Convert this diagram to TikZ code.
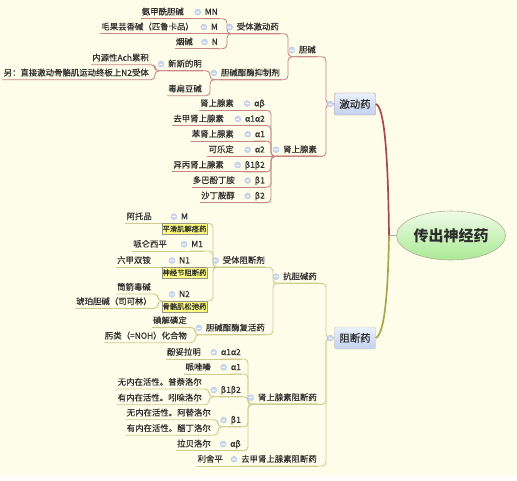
\documentclass[tikz,border=0pt]{standalone}
\usepackage{fontspec}
\setmainfont{Noto Sans CJK SC}
\newfontfamily\mmfam{Noto Sans CJK SC}[FakeBold=0.3]
\usetikzlibrary{calc,shapes.geometric}

\definecolor{bgc}{RGB}{254,253,234}
\definecolor{txtc}{RGB}{45,45,45}
\definecolor{lineA}{RGB}{200,132,135}
\definecolor{lineB}{RGB}{208,202,142}
\definecolor{mainA}{RGB}{168,72,76}
\definecolor{mainB}{RGB}{172,165,80}
\definecolor{knobc}{RGB}{200,216,242}
\definecolor{knobd}{RGB}{172,194,230}
\definecolor{boxt}{RGB}{234,240,252}
\definecolor{boxb}{RGB}{194,210,240}
\definecolor{rootd}{RGB}{168,176,150}
\definecolor{roott}{RGB}{240,251,230}
\definecolor{rootb}{RGB}{170,234,150}
\definecolor{lblf}{RGB}{255,255,130}
\definecolor{lblb}{RGB}{150,150,130}

\newcommand\mmfont{\mmfam\fontsize{8.4}{10}\selectfont}

\begin{document}
\begin{tikzpicture}[x=1pt,y=-1pt,
  topic/.style={font=\mmfont,text=txtc,inner xsep=1pt,inner ysep=0pt,
    text height=7pt,text depth=1.5pt,minimum height=13pt,anchor=east},
  mainbox/.style={rectangle,rounded corners=2pt,top color=boxt,bottom color=boxb,
    font=\mmfam\fontsize{10.4}{12}\selectfont,text=txtc,minimum width=41pt,minimum height=22pt,inner sep=1pt},
  lbl/.style={draw=lblb,fill=lblf,line width=0.4pt,font=\mmfam\fontsize{7.3}{8}\selectfont,text=txtc,
    inner xsep=0.6pt,inner ysep=0pt,minimum height=10.5pt,anchor=north},
  conA/.style={draw=lineA,line width=0.9pt,rounded corners=4pt},
  conB/.style={draw=lineB,line width=0.9pt,rounded corners=4pt},
  knob/.style={fill=knobc,draw=knobd,line width=0.3pt}]
\useasboundingbox (0,0) rectangle (517,480);
\fill[bgc] (0,0) rectangle (517,476);

% centre and the two main branches
\node[ellipse,draw=rootd,line width=0.6pt,top color=roott,bottom color=rootb,minimum width=109pt,minimum height=49pt,
  inner sep=0pt,text=txtc,font=\fontsize{15}{18}\selectfont\bfseries] (root) at (451,235.5) {传出神经药};
\node[mainbox,draw=lineA] (act) at (355,104) {激动药};
\node[mainbox,draw=lineB] (blk) at (355,338) {阻断药};

% agonists
\node[topic] (chol) at (317,50) {胆碱};
\node[topic] (adr) at (318,149.7) {肾上腺素};
\node[topic] (ragon) at (280,27) {受体激动药};
\node[topic] (ache) at (281,73) {胆碱酯酶抑制剂};
\node[topic] (mn) at (219,12) {MN};
\node[topic] (m) at (219,27) {M};
\node[topic] (n) at (219,42) {N};
\node[topic] (mn1) at (185,12) {氨甲酰胆碱};
\node[topic] (m1) at (195,27) {毛果芸香碱（匹鲁卡品）};
\node[topic] (n1) at (194,42) {烟碱};
\node[topic] (neo) at (203,64) {新斯的明};
\node[topic] (phy) at (203,89) {毒扁豆碱};
\node[topic] (ach) at (150,58) {内源性Ach累积};
\node[topic] (n2r) at (150,73) {另：直接激动骨骼肌运动终板上N2受体};
\node[topic] (ab) at (266,103.5) {αβ};
\node[topic] (a12) at (266,118.9) {α1α2};
\node[topic] (a1) at (266,134.3) {α1};
\node[topic] (a2) at (266,149.7) {α2};
\node[topic] (b12) at (266,165.1) {β1β2};
\node[topic] (b1) at (266,180.5) {β1};
\node[topic] (b2) at (266,195.9) {β2};
\node[topic] (ab-l) at (235,103.5) {肾上腺素};
\node[topic] (a12-l) at (225,118.9) {去甲肾上腺素};
\node[topic] (a1-l) at (235,134.3) {苯肾上腺素};
\node[topic] (a2-l) at (235,149.7) {可乐定};
\node[topic] (b12-l) at (225,165.1) {异丙肾上腺素};
\node[topic] (b1-l) at (236,180.5) {多巴酚丁胺};
\node[topic] (b2-l) at (236,195.9) {沙丁胺醇};

% antagonists
\node[topic] (achb) at (318,276.7) {抗胆碱药};
\node[topic] (adrb) at (318,397.7) {肾上腺素阻断药};
\node[topic] (nadb) at (318,459.3) {去甲肾上腺素阻断药};
\node[topic] (rblk) at (266,260.5) {受体阻断剂};
\node[topic] (reac) at (266,328) {胆碱酯酶复活药};
\node[topic,anchor=center] (bm) at (184.5,216.7) {M};
\node[topic] (bm1) at (204,244.3) {M1};
\node[topic,anchor=center] (bn1) at (184.5,260.5) {N1};
\node[topic,anchor=center] (bn2) at (184.5,294.3) {N2};
\node[lbl] (lblM) at (bm.south) {平滑肌解痉药};
\node[lbl] (lblN1) at (bn1.south) {神经节阻断药};
\node[lbl] (lblN2) at (bn2.south) {骨骼肌松弛药};
\node[topic] (atr) at (153,216.7) {阿托品};
\node[topic] (pir) at (168,244.3) {哌仑西平};
\node[topic] (hex) at (152,260.5) {六甲双铵};
\node[topic] (tub) at (152,287.3) {筒箭毒碱};
\node[topic] (suc) at (153,301.7) {琥珀胆碱（司可林）};
\node[topic] (pam) at (188,320.7) {碘解磷定};
\node[topic] (oxi) at (188,336) {肟类（=NOH）化合物};
\node[topic] (ab2) at (242,352.3) {α1α2};
\node[topic] (a1b) at (242,367.3) {α1};
\node[topic] (b12b) at (242,390) {β1β2};
\node[topic] (b1b) at (242,420) {β1};
\node[topic] (abb) at (242,444) {αβ};
\node[topic] (phe) at (202,352.3) {酚妥拉明};
\node[topic] (pra) at (212,367.3) {哌唑嗪};
\node[topic] (pro) at (203,382.3) {无内在活性。普萘洛尔};
\node[topic] (pin) at (203,398) {有内在活性。吲哚洛尔};
\node[topic] (ate) at (212,413) {无内在活性。阿替洛尔};
\node[topic] (ace) at (212,428.5) {有内在活性。醋丁洛尔};
\node[topic] (lab) at (212,444) {拉贝洛尔};
\node[topic] (res) at (224,459.3) {利舍平};

% spine points
\coordinate (hub) at (389,235.5);
\coordinate (s-act) at (326,104);
\coordinate (s-chol) at (288,0 |- chol.south);
\coordinate (s-rag) at (227,0 |- ragon.south);
\coordinate (s-ache) at (210,0 |- ache.south);
\coordinate (s-neo) at (155,0 |- neo.south);
\coordinate (s-adr) at (271,0 |- adr.south);
\coordinate (s-blk) at (326,338);
\coordinate (s-achb) at (273,0 |- achb.south);
\coordinate (s-rblk) at (213,0 |- rblk.south);
\coordinate (s-bn2) at (158,0 |- lblN2.north);
\coordinate (s-reac) at (195,0 |- reac.south);
\coordinate (s-adrb) at (248,0 |- adrb.south);
\coordinate (s-b12) at (209,0 |- b12b.south);
\coordinate (s-b1) at (218,0 |- b1b.south);

\draw[rootd,line width=0.8pt] (root.west) -- (hub);
\draw[mainA,line width=1.7pt] (hub) .. controls (388,150) and (384,106) .. (act.east);
\draw[mainB,line width=1.7pt] (hub) .. controls (388,290) and (385,334) .. (blk.east);

% agonist connectors
\draw[conA] (chol.south west) -| (s-act) -- (act.west);
\draw[conA] (adr.south west) -| (s-act) -- (act.west);
\draw[conA] (ragon.south west) -| (s-chol) -- (chol.south east);
\draw[conA] (ache.south west) -| (s-chol) -- (chol.south east);
\draw[conA] (mn.south west) -| (s-rag) -- (ragon.south east);
\draw[conA] (m.south west) -- (ragon.south east);
\draw[conA] (n.south west) -| (s-rag) -- (ragon.south east);
\draw[conA] (mn1.south west) -- (mn.south east);
\draw[conA] (m1.south west) -- (m.south east);
\draw[conA] (n1.south west) -- (n.south east);
\draw[conA] (neo.south west) -| (s-ache) -- (ache.south east);
\draw[conA] (phy.south west) -| (s-ache) -- (ache.south east);
\draw[conA] (ach.south west) -| (s-neo) -- (neo.south east);
\draw[conA] (n2r.south west) -| (s-neo) -- (neo.south east);
\foreach \c in {ab,a12,a1,b12,b1,b2}
  \draw[conA] (\c.south west) -| (s-adr) -- (adr.south east);
\draw[conA] (a2.south west) -- (adr.south east);
\foreach \c in {ab,a12,a1,a2,b12,b1,b2}
  \draw[conA] (\c-l.south west) -- (\c.south east);

% antagonist connectors
\foreach \c in {achb,adrb,nadb}
  \draw[conB] (\c.south west) -| (s-blk) -- (blk.west);
\draw[conB] (rblk.south west) -| (s-achb) -- (achb.south east);
\draw[conB] (reac.south west) -| (s-achb) -- (achb.south east);
\draw[conB] (lblM.north east) -| (s-rblk) -- (rblk.south east);
\draw[conB] (bm1.south west) -| (s-rblk) -- (rblk.south east);
\draw[conB] (lblN1.north east) -- (rblk.south east);
\draw[conB] (lblN2.north east) -| (s-rblk) -- (rblk.south east);
\draw[conB] (atr.south west) -- (lblM.north west);
\draw[conB] (pir.south west) -- (bm1.south east);
\draw[conB] (hex.south west) -- (lblN1.north west);
\draw[conB] (tub.south west) -| (s-bn2) -- (lblN2.north west);
\draw[conB] (suc.south west) -| (s-bn2) -- (lblN2.north west);
\draw[conB] (pam.south west) -| (s-reac) -- (reac.south east);
\draw[conB] (oxi.south west) -| (s-reac) -- (reac.south east);
\foreach \c in {ab2,a1b,b12b,b1b,abb}
  \draw[conB] (\c.south west) -| (s-adrb) -- (adrb.south east);
\draw[conB] (phe.south west) -- (ab2.south east);
\draw[conB] (pra.south west) -- (a1b.south east);
\draw[conB] (pro.south west) -| (s-b12) -- (b12b.south east);
\draw[conB] (pin.south west) -| (s-b12) -- (b12b.south east);
\draw[conB] (ate.south west) -| (s-b1) -- (b1b.south east);
\draw[conB] (ace.south west) -| (s-b1) -- (b1b.south east);
\draw[conB] (lab.south west) -- (abb.south east);
\draw[conB] (res.south west) -- (nadb.south east);

% collapse knobs
\foreach \n in {act,blk}{
  \filldraw[knob] ($(\n.west)+(-4,0)$) circle [radius=3];
  \draw[white,line width=0.7pt] ($(\n.west)+(-5.7,0)$) -- ($(\n.west)+(-2.3,0)$);
}
\foreach \n in {chol,adr,ragon,ache,mn,m,n,neo,ab,a12,a1,a2,b12,b1,b2,
  achb,adrb,nadb,rblk,reac,bm,bm1,bn1,bn2,ab2,a1b,b12b,b1b,abb}{
  \filldraw[knob] ($(\n.west)+(-6,0)$) circle [radius=3];
  \draw[white,line width=0.7pt] ($(\n.west)+(-7.7,0)$) -- ($(\n.west)+(-4.3,0)$);
}
\end{tikzpicture}
\end{document}
